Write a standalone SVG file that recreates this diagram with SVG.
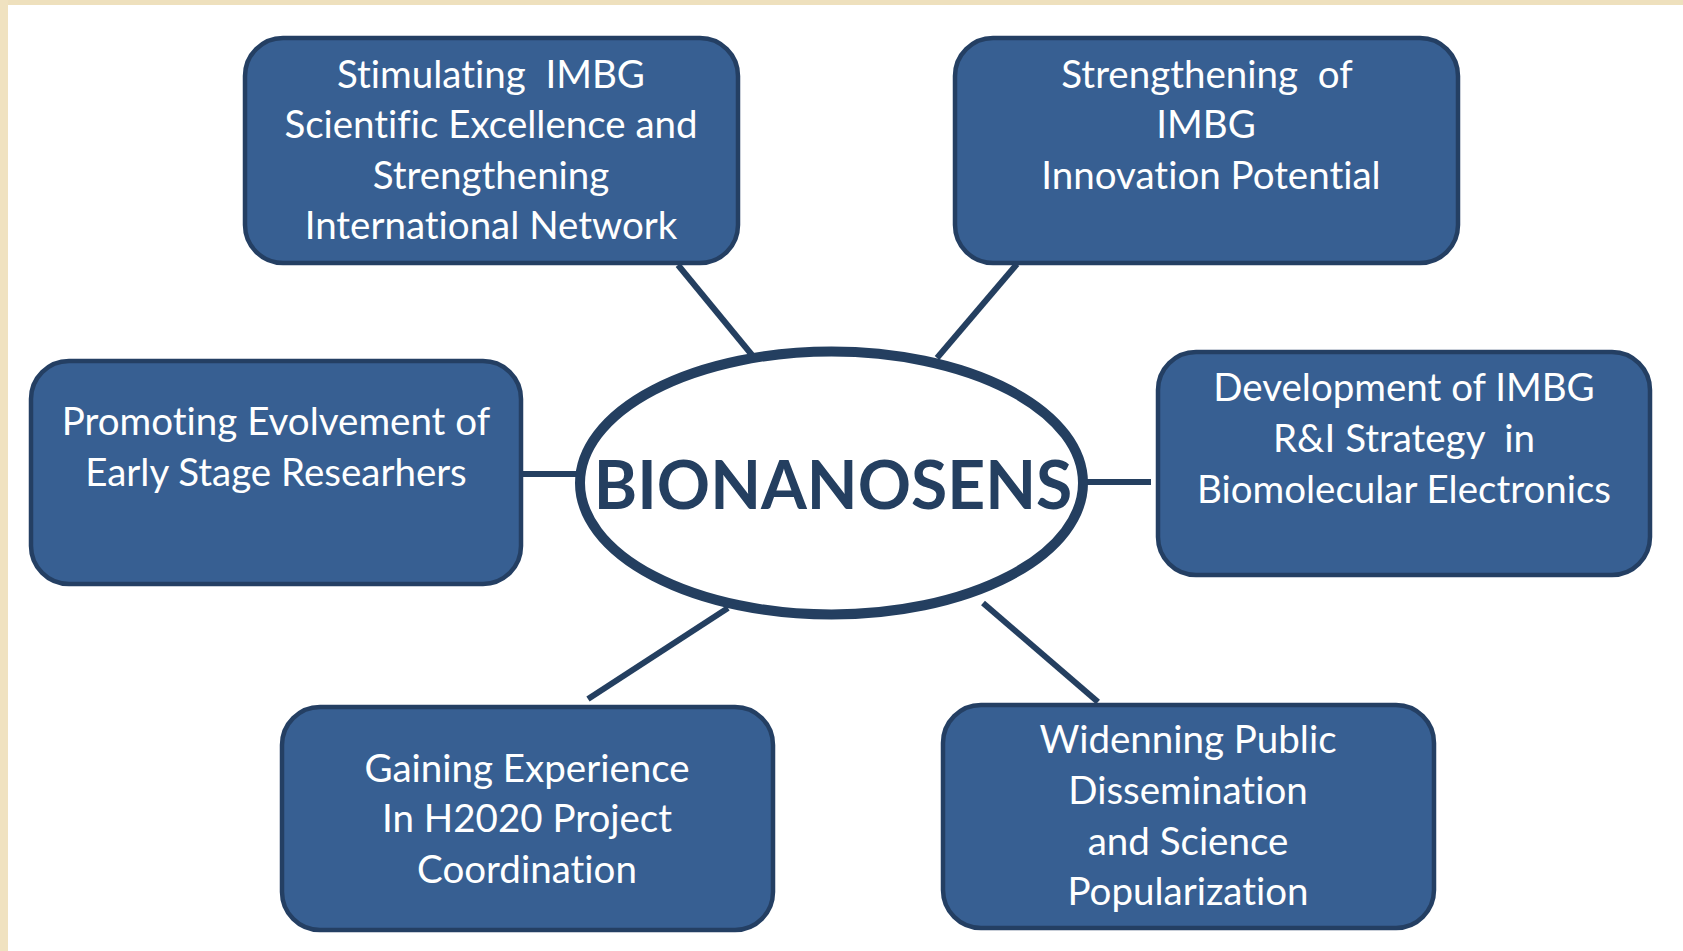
<svg xmlns="http://www.w3.org/2000/svg" width="1683" height="951" viewBox="0 0 1683 951">
<style>
.box{fill:#375f92;stroke:#243f63;stroke-width:4.5}
.t{font-family:Lato,"Open Sans",sans-serif;font-size:38.5px;fill:#ffffff;text-anchor:middle;white-space:pre;font-variant-ligatures:none}
.c{stroke:#243f60;stroke-width:6;fill:none}
</style>
<rect x="0" y="0" width="1683" height="951" fill="#ffffff"/>
<rect x="0" y="0" width="1683" height="5" fill="#eee0bd"/>
<rect x="0" y="0" width="8" height="951" fill="#f0e2c0"/>
<g id="connectors">
<line class="c" x1="678" y1="265" x2="752" y2="355"/>
<line class="c" x1="1017" y1="264" x2="937" y2="358"/>
<line class="c" x1="523" y1="474" x2="580" y2="474"/>
<line class="c" x1="1086" y1="482" x2="1151" y2="482"/>
<line class="c" x1="728" y1="608" x2="588" y2="699"/>
<line class="c" x1="983" y1="603" x2="1098" y2="702"/>
</g>
<g id="center">
<ellipse cx="831.5" cy="483" rx="251.5" ry="131.5" fill="#ffffff" stroke="#243f60" stroke-width="10"/>
<text x="833" y="509" font-family="Lato,'Open Sans',sans-serif" font-weight="bold" font-size="66" fill="#243f60" text-anchor="middle">BIONANOSENS</text>
</g>
<g id="n1">
<rect class="box" x="245" y="38" width="493" height="225" rx="38"/>
<text class="t" x="491" y="88">Stimulating  IMBG</text>
<text class="t" x="491" y="138">Scientific Excellence and</text>
<text class="t" x="491" y="189">Strengthening</text>
<text class="t" x="491" y="239">International Network</text>
</g>
<g id="n2">
<rect class="box" x="955" y="38" width="503" height="225" rx="38"/>
<text class="t" x="1207" y="88">Strengthening  of</text>
<text class="t" x="1206" y="138">IMBG</text>
<text class="t" x="1211" y="189">Innovation Potential</text>
</g>
<g id="n3">
<rect class="box" x="31" y="361" width="490" height="223" rx="38"/>
<text class="t" x="276" y="435">Promoting Evolvement of</text>
<text class="t" x="276" y="486">Early Stage Researhers</text>
</g>
<g id="n4">
<rect class="box" x="1158" y="352" width="492" height="223" rx="38"/>
<text class="t" x="1404" y="401">Development of IMBG</text>
<text class="t" x="1404" y="452">R&amp;I Strategy  in</text>
<text class="t" x="1404" y="503">Biomolecular Electronics</text>
</g>
<g id="n5">
<rect class="box" x="282" y="707" width="491" height="223" rx="38"/>
<text class="t" x="527" y="782">Gaining Experience</text>
<text class="t" x="527" y="832">In H2020 Project</text>
<text class="t" x="527" y="883">Coordination</text>
</g>
<g id="n6">
<rect class="box" x="943" y="705" width="491" height="223" rx="38"/>
<text class="t" x="1188" y="753">Widenning Public</text>
<text class="t" x="1188" y="804">Dissemination</text>
<text class="t" x="1188" y="855">and Science</text>
<text class="t" x="1188" y="905">Popularization</text>
</g>
</svg>
